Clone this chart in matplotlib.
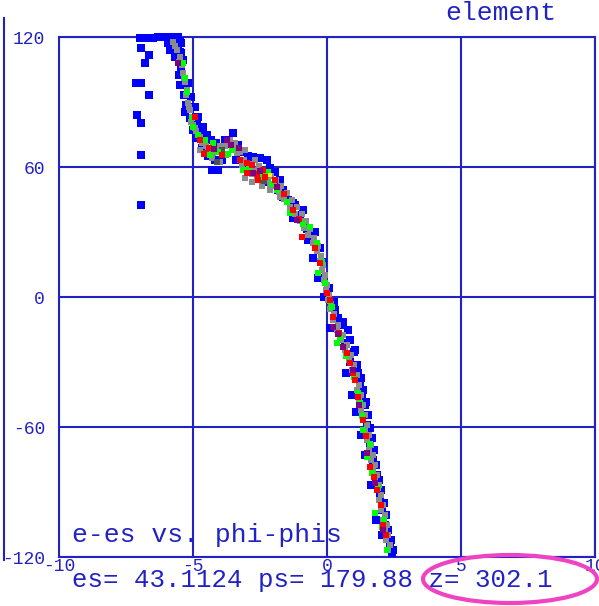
import matplotlib
matplotlib.use("Agg")
import matplotlib.pyplot as plt
from matplotlib.patches import Ellipse
from matplotlib.lines import Line2D

# ---- data: energy offset (e-es) vs. phase offset (phi-phis) ----
blue_x = [-6.98, -6.72, -6.49, -6.31, -6.94, -6.64, -6.79, -7.13, -6.94, -6.64,
          -7.09, -6.94, -6.94, -6.94,
          -6.04, -5.78, -5.56, -5.93, -5.67, -5.45, -5.86, -5.60, -5.45, -5.67,
          -5.37, -5.52, -5.49, -5.19, -5.34, -5.07, -5.26, -4.93, -5.11, -4.81,
          -5.00, -4.63, -4.89, -4.48, -4.33, -4.66, -4.44, -4.18, -3.92, -4.14,
          -3.81, -3.51, -3.32, -3.13, -2.95, -3.40, -3.06, -2.76, -2.50, -2.24,
          -2.13, -1.94, -1.75, -2.57, -2.28, -1.64, -1.46, -1.83, -1.19, -1.01,
          -1.27, -0.82, -0.71, -0.45, -0.26, -0.52, -0.15, -0.34, 0.07, -0.11,
          0.26, 0.41, 0.60, 0.11, 0.78, 0.67, 1.04, 0.86, 0.71, 1.16, 1.23,
          0.93, 1.31, 1.42, 1.08, 1.49, 1.27, 1.60, 1.42, 1.72, 1.87, 1.64,
          1.98, 2.05, 1.83, 2.16, 2.05, 2.35, 2.43,
          0.30, 0.49, 0.86, 1.01, 1.12, 1.27, 1.34, 1.46, 1.53, 1.60,
          1.68, 1.75, 1.83, 1.94, 2.01, 2.13, 2.20, 2.28, 2.39, 2.46,
          -5.45, -5.30, -4.85, -4.70, -4.29, -4.07, -1.64, -1.27, -0.90, -0.75, -0.52,
          -5.90, -5.70, -5.50, -5.80, -5.55, -5.50, -5.65, -5.50, -5.45]
blue_y = [119.5, 119.5, 119.5, 120.0, 114.9, 111.7, 108.0, 98.8, 98.8, 93.2,
          84.0, 80.3, 65.5, 42.5,
          120.0, 120.0, 120.0, 117.2, 117.2, 117.2, 114.0, 114.0, 112.6, 110.8,
          109.4, 102.5, 97.8, 98.8, 93.2, 92.3, 88.6, 87.7, 82.6, 83.1,
          77.1, 78.5, 73.4, 74.8, 72.5, 68.8, 65.1, 63.2, 63.2, 71.1,
          72.5, 75.7, 70.2, 66.9, 65.1, 63.2, 61.8, 64.6, 64.2, 63.2,
          59.5, 57.7, 54.0, 54.9, 53.1, 49.4, 44.8, 49.4, 42.5, 37.8,
          36.5, 34.6, 26.3, 30.0, 22.6, 18.0, 16.2, 8.8, 4.2, 0.0,
          -2.3, -9.7, -11.5, -14.3, -15.2, -21.2, -24.5, -30.0, -35.1, -35.1, -40.6,
          -45.2, -46.6, -49.8, -53.1, -59.1, -63.7, -68.3, -72.9, -75.2, -82.2, -86.8,
          -91.4, -98.3, -102.9, -105.2, -109.8, -114.5, -118.2,
          -6.0, -12.9, -19.8, -25.4, -31.4, -37.4, -42.9, -48.5, -54.5, -60.5,
          -65.1, -70.6, -77.5, -84.5, -89.1, -95.1, -100.6, -107.5, -112.2, -116.8,
          105.7, 85.4, 79.4, 75.7, 58.6, 58.6, 46.2, 43.4, 40.2, 31.4, 27.2,
          119.0, 119.0, 118.0, 115.5, 115.5, 113.0, 112.0, 110.0, 107.0]

gray_x = [-5.75, -5.60, -5.49, -5.41, -5.37, -5.30, -5.22, -5.19, -5.11, -5.04,
          -5.00, -4.89, -4.74, -4.59, -4.44, -4.25, -4.07, -3.88, -3.69, -3.54,
          -3.36, -3.17, -2.99, -2.80, -2.61, -2.43, -2.20, -1.98, -1.79, -1.60,
          -1.38, -1.19, -1.01, -0.86, -0.71, -0.52, -0.37, -0.26, -0.19, -0.11,
          -0.04, 0.04, 0.11, 0.22, 0.37, 0.52, 0.67, 0.82, 0.93, 1.04,
          1.12, 1.19, 1.27, 1.34, 1.42, 1.49, 1.57, 1.64, 1.72, 1.79,
          1.87, 1.94, 2.01, 2.09, 2.16, 2.20, 2.28,
          -4.74, -4.29, -3.99, -3.77, -3.43, -3.06, -2.87, -2.43, -2.13,
          -5.67, -5.52, -5.34, -5.26, -5.15, -5.07, -4.93, -4.81, -4.66, -4.51,
          -4.37, -4.18, -3.99, -3.81, -3.62, -3.43, -3.25, -3.10, -2.91, -2.69,
          -2.72, -2.54, -2.31, -2.09, -1.90, -1.72, -1.49, -1.31, -1.12, -0.93,
          -0.78, -0.63, -0.49, -0.34, -0.22, -0.15, -0.07, 0.00, 0.07, 0.15,
          0.26, 0.41, 0.60, 0.75, 0.90, 1.01, 1.12, 1.19, 1.27, 1.34,
          1.42, 1.49, 1.57, 1.64, 1.72, 1.79, 1.87, 1.94, 2.01, 2.09,
          2.16, 2.24, 2.28, 2.35,
          -3.06, -2.80, -2.43, -2.13, -1.75]
gray_y = [117.7, 114.0, 110.8, 107.1, 103.4, 99.2, 95.5, 89.5, 86.3, 83.1,
          79.4, 76.6, 73.8, 71.5, 68.8, 66.5, 67.8, 69.7, 71.1, 68.8,
          66.5, 60.9, 58.6, 56.8, 55.4, 54.9, 53.5, 51.2, 48.5, 45.2,
          41.5, 38.3, 35.1, 31.9, 28.6, 24.9, 21.2, 16.6, 12.5, 7.8,
          3.2, -1.4, -5.5, -10.6, -15.2, -19.8, -24.5, -29.1, -33.7, -38.3,
          -42.9, -47.5, -52.2, -56.8, -61.4, -66.0, -70.6, -75.2, -79.8, -84.5,
          -89.1, -93.7, -98.3, -102.9, -107.5, -112.1, -116.8,
          67.8, 64.2, 62.3, 65.5, 71.1, 67.8, 58.6, 53.1, 51.7,
          115.9, 108.5, 101.1, 93.2, 87.7, 80.8, 78.0, 74.8, 71.1, 69.7,
          66.9, 67.8, 69.7, 69.7, 72.5, 68.8, 66.9, 63.2, 61.4, 63.2,
          58.6, 60.5, 57.7, 55.8, 54.0, 51.2, 48.0, 44.8, 41.5, 38.3,
          35.1, 31.4, 27.2, 23.5, 18.9, 14.8, 10.2, 5.5, 0.9, -3.2,
          -7.8, -12.9, -17.5, -22.2, -26.8, -31.4, -36.0, -40.6, -45.2, -49.8,
          -54.5, -59.1, -63.7, -68.3, -72.9, -77.5, -82.2, -86.8, -91.4, -96.0,
          -100.6, -105.2, -109.8, -114.5,
          54.9, 53.1, 51.2, 49.4, 46.2]

dark_x = [-4.50, -3.90, -2.35, -4.10]
dark_y = [66.5, 68.0, 53.5, 62.5]

green_x = [-5.37, -5.22, -5.04, -5.00, -4.55, -4.25, -4.07, -4.37, -3.54, -3.13,
           -2.50, -2.20, -1.87, -1.38, -0.63, -0.37, -0.34, -0.07, 0.19, 0.49,
           0.37, 1.16, 1.23, 1.34, 1.49, 1.68, 1.79, 2.05, 2.24,
           -5.30, -4.80, -3.70, -2.90, -2.05, -1.50, -0.90, -0.20, 0.10, 0.70,
           1.00, 1.30, 1.60, 1.90, 2.12]
green_y = [108.0, 94.6, 82.6, 78.5, 72.5, 71.1, 66.9, 65.5, 67.8, 58.6,
           55.4, 57.7, 49.4, 38.8, 32.3, 24.9, 11.1, 6.5, -4.6, -18.5,
           -21.2, -44.3, -48.9, -61.4, -73.8, -81.2, -99.7, -106.2, -116.8,
           101.0, 75.0, 66.0, 60.0, 52.0, 44.0, 33.5, 16.0, -2.0, -27.0,
           -37.0, -55.0, -68.0, -88.0, -103.0]

red_x = [-4.93, -4.74, -4.40, -3.25, -2.99, -2.80, -2.39, -2.57, -1.94, -1.27,
         -0.93, -0.26, 0.11, 0.22, 0.86, 0.97, 1.04, 1.34, 1.60, 1.87, 2.09,
         -4.60, -3.90, -3.00, -2.60, -2.30, -1.60, -1.05, -0.45, 0.00, 0.45,
         0.75, 1.15, 1.45, 1.75, 2.00, 2.20]
red_y = [83.1, 72.5, 68.8, 63.2, 57.2, 60.9, 58.6, 54.0, 54.0, 40.2,
         27.7, 15.7, -1.4, -9.2, -30.5, -35.1, -38.3, -56.8, -78.5, -89.1, -105.2,
         66.0, 65.5, 62.0, 57.0, 55.5, 47.5, 36.0, 22.5, 2.0, -16.5,
         -26.0, -46.0, -64.0, -83.0, -96.0, -110.0]

purple_x = [-5.56, -3.73, -3.58, -2.76, -1.12, 0.22, 0.60, 0.97, 1.49, 2.09,
            -4.20, -3.30, -2.50, -1.85, 0.40, 1.20, 1.80]
purple_y = [108.0, 72.5, 70.2, 57.2, 35.5, -13.8, -23.1, -33.7, -72.0, -107.5,
            68.5, 69.0, 58.0, 51.0, -17.0, -50.0, -86.0]

yellow_x = [-2.13]
yellow_y = [56.3]

x_ticks = [-10, -5, 0, 5, 10]
y_ticks = [-120, -60, 0, 60, 120]
x_tick_labels = ["-10", "-5", "0", "5", "10"]
y_tick_labels = ["-120", "-60", "0", "60", "120"]

plot_title = "e-es vs. phi-phis"
panel_name = "element"
status_line = "es= 43.1124 ps= 179.88 z= 302.1"

# ---- styling ----
INK = "#2222c4"
MONO = ["Liberation Mono", "DejaVu Sans Mono"]
W, H = 599, 606
AX_L, AX_T, AX_W, AX_H = 59, 37, 536, 520

fig = plt.figure(figsize=(W / 100, H / 100), dpi=100)
fig.patch.set_facecolor("white")
ax = fig.add_axes([AX_L / W, 1 - (AX_T + AX_H) / H, AX_W / W, AX_H / H])
ax.set_xlim(-10, 10)
ax.set_ylim(-120, 120)

ax.set_xticks(x_ticks)
ax.set_xticklabels(x_tick_labels)
ax.set_yticks(y_ticks)
ax.set_yticklabels(y_tick_labels)
ax.tick_params(length=0, labelcolor=INK)
ax.tick_params(axis="y", pad=10)
ax.tick_params(axis="x", pad=1)
for lab in ax.get_xticklabels() + ax.get_yticklabels():
    lab.set_fontfamily(MONO)
    lab.set_fontsize(13)

ax.grid(True, color=INK, linewidth=1.5)
ax.set_axisbelow(True)
for sp in ax.spines.values():
    sp.set_color(INK)
    sp.set_linewidth(1.5)

# particle markers: blue halo, gray core, coloured species on top
ax.scatter(blue_x, blue_y, marker="s", s=40, color="#0000ff", lw=0, zorder=3, clip_on=False)
ax.scatter(gray_x, gray_y, marker="s", s=22, color="#8c8c8c", lw=0, zorder=4, clip_on=False)
ax.scatter(dark_x, dark_y, marker="s", s=14, color="#505050", lw=0, zorder=5, clip_on=False)
ax.scatter(green_x, green_y, marker="s", s=14, color="#00ff00", lw=0, zorder=5, clip_on=False)
ax.scatter(red_x, red_y, marker="s", s=14, color="#ff0000", lw=0, zorder=5, clip_on=False)
ax.scatter(purple_x, purple_y, marker="s", s=14, color="#800080", lw=0, zorder=5, clip_on=False)
ax.scatter(yellow_x, yellow_y, marker="s", s=12, color="#ffff00", lw=0, zorder=6, clip_on=False)

ax.text((72 - AX_L) / AX_W, (AX_T + AX_H - 535) / AX_H, plot_title,
        transform=ax.transAxes, fontfamily=MONO, fontsize=19, color=INK,
        ha="left", va="center", zorder=7)

fig.text(445 / W, 1 - 20 / H, panel_name, fontfamily=MONO, fontsize=19,
         color=INK, ha="left", va="baseline")
fig.text(72 / W, 1 - 580 / H, status_line, fontfamily=MONO, fontsize=18.5,
         color=INK, ha="left", va="center")

# neighbouring panel edge on the far left
fig.add_artist(Line2D([4 / W, 4 / W], [1 - 18 / H, 1 - 560 / H],
                      transform=fig.transFigure, color=INK, lw=1.5))

# highlight ring around the z position
fig.add_artist(Ellipse((510 / W, 1 - 579 / H), 174 / W, 48 / H,
                       transform=fig.transFigure, fill=False,
                       edgecolor="#ee44c4", lw=3))

fig.savefig("out.png", dpi=100)
